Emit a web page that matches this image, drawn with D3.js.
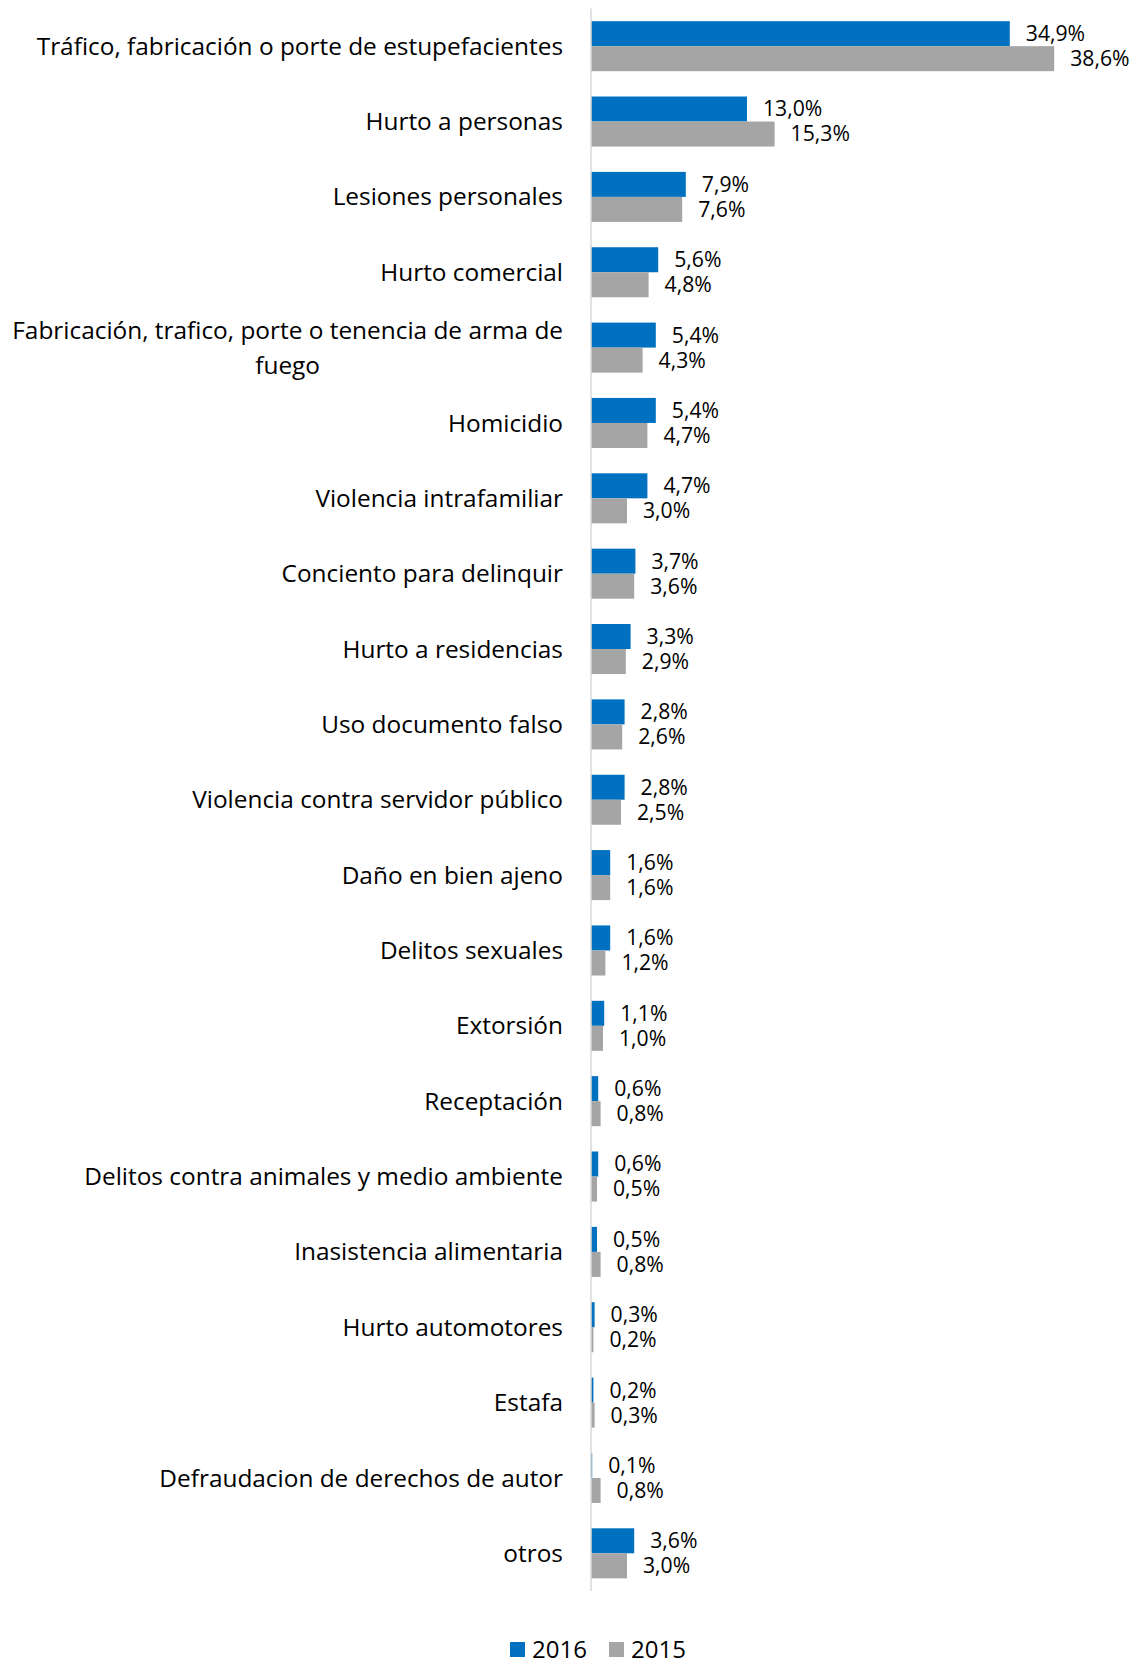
<!DOCTYPE html>
<html><head><meta charset="utf-8">
<script src="https://cdn.jsdelivr.net/npm/d3@7"></script>
<style>body{margin:0;background:#fff;} svg{display:block;}</style>
</head><body>
<svg id="chart" width="1137" height="1663"></svg>
<script>
const categories = [
  "Tráfico, fabricación o porte de estupefacientes",
  "Hurto a personas",
  "Lesiones personales",
  "Hurto comercial",
  "Fabricación, trafico, porte o tenencia de arma de fuego",
  "Homicidio",
  "Violencia intrafamiliar",
  "Conciento para delinquir",
  "Hurto a residencias",
  "Uso documento falso",
  "Violencia contra servidor público",
  "Daño en bien ajeno",
  "Delitos sexuales",
  "Extorsión",
  "Receptación",
  "Delitos contra animales y medio ambiente",
  "Inasistencia alimentaria",
  "Hurto automotores",
  "Estafa",
  "Defraudacion de derechos de autor",
  "otros"
];
const values2016 = [34.9,13.0,7.9,5.6,5.4,5.4,4.7,3.7,3.3,2.8,2.8,1.6,1.6,1.1,0.6,0.6,0.5,0.3,0.2,0.1,3.6];
const values2015 = [38.6,15.3,7.6,4.8,4.3,4.7,3.0,3.6,2.9,2.6,2.5,1.6,1.2,1.0,0.8,0.5,0.8,0.2,0.3,0.8,3.0];
const seriesNames = ["2016","2015"];
const colors = {"2016":"#0070C0","2015":"#A5A5A5"};

const svg = d3.select("#chart");
const x0 = 591, yTop = 8.5, yBot = 1591;
const font = "'Open Sans', sans-serif";
const catSize = 24.4, valSize = 21.2, legSize = 24;

const x = d3.scaleLinear().domain([0, 40]).range([x0, x0 + 480]);
const y = d3.scaleBand().domain(categories).range([yTop, yBot]).paddingInner(0.336).paddingOuter(0.168);
const ys = d3.scaleBand().domain(seriesNames).range([0, y.bandwidth()]);

const data = categories.map((c,i)=>({cat:c, vals:[{s:"2016",v:values2016[i]},{s:"2015",v:values2015[i]}]}));

const g = svg.append("g");
const groups = g.selectAll("g.cat").data(data).join("g").attr("class","cat")
  .attr("transform", d=>`translate(0,${y(d.cat)})`);

groups.selectAll("rect").data(d=>d.vals).join("rect")
  .attr("x", x(0))
  .attr("y", d=>ys(d.s))
  .attr("width", d=>x(d.v)-x(0))
  .attr("height", ys.bandwidth())
  .attr("fill", d=>colors[d.s]);

groups.selectAll("text.val").data(d=>d.vals).join("text").attr("class","val")
  .attr("x", d=>x(d.v)+16)
  .attr("y", d=>ys(d.s)+ys.bandwidth()/2)
  .attr("dy","0.35em")
  .attr("font-family", font).attr("font-size", valSize).attr("fill","#000")
  .text(d=>d.v.toFixed(1).replace(".", ",")+"%");

// axis line
svg.append("line").attr("x1",x0).attr("x2",x0).attr("y1",yTop).attr("y2",yBot)
  .attr("stroke","#D9D9D9").attr("stroke-width",1.5);

// category labels
const labelRight = 563;
const maxW = 568;
data.forEach(d=>{
  const cy = y(d.cat) + y.bandwidth()/2;
  const t = svg.append("text").attr("font-family",font).attr("font-size",catSize).attr("fill","#000")
    .attr("x", labelRight).attr("y", cy).attr("dy","0.35em").attr("text-anchor","end").text(d.cat);
  if (t.node().getComputedTextLength() > maxW) {
    t.remove();
    const words = d.cat.split(" ");
    let l1 = [], l2 = [];
    const tmp = svg.append("text").attr("font-family",font).attr("font-size",catSize);
    for (const w of words) {
      tmp.text([...l1,w].join(" "));
      if (l2.length===0 && tmp.node().getComputedTextLength() <= maxW) l1.push(w); else l2.push(w);
    }
    tmp.text(l1.join(" "));
    const w1 = tmp.node().getComputedTextLength();
    tmp.remove();
    const cx = labelRight - w1/2;
    svg.append("text").attr("font-family",font).attr("font-size",catSize).attr("fill","#000")
      .attr("x", cx).attr("y", cy-17.5).attr("dy","0.35em").attr("text-anchor","middle").text(l1.join(" "));
    svg.append("text").attr("font-family",font).attr("font-size",catSize).attr("fill","#000")
      .attr("x", cx).attr("y", cy+17.5).attr("dy","0.35em").attr("text-anchor","middle").text(l2.join(" "));
  }
});

// legend
const legend = svg.append("g").attr("transform","translate(510,1642)");
const lg = legend.selectAll("g").data(seriesNames).join("g")
  .attr("transform",(d,i)=>`translate(${i*99},0)`);
lg.append("rect").attr("width",15).attr("height",15).attr("fill",d=>colors[d]);
lg.append("text").attr("x",22).attr("y",7.5).attr("dy","0.35em")
  .attr("font-family",font).attr("font-size",legSize).attr("fill","#000").text(d=>d);
</script>
</body></html>
